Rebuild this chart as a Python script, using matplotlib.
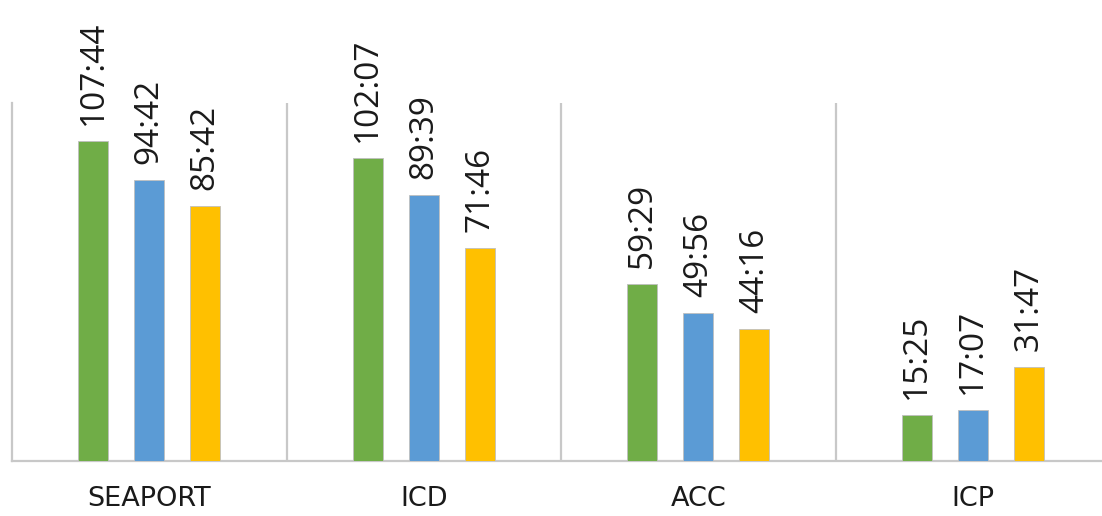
import matplotlib
matplotlib.use("Agg")
import matplotlib.pyplot as plt
import numpy as np

categories = ["SEAPORT", "ICD", "ACC", "ICP"]
series_a = ["107:44", "102:07", "59:29", "15:25"]
series_b = ["94:42", "89:39", "49:56", "17:07"]
series_c = ["85:42", "71:46", "44:16", "31:47"]
colors = ["#70AD47", "#5B9BD5", "#FFC000"]

def to_hours(s):
    h, m = s.split(":")
    return int(h) + int(m) / 60.0

W, H = 1102, 516
fig = plt.figure(figsize=(W / 100, H / 100), dpi=100)
ax = fig.add_axes([12 / W, (H - 461) / H, (1102 - 12) / W, (461 - 103) / H])
ax.set_xlim(-0.5, 3.5 - 8 / 274)
ax.set_ylim(0, 120.5)

x = np.arange(len(categories))
offsets = [-0.204, 0.0, 0.204]
width = 0.11
for series, off, col in zip([series_a, series_b, series_c], offsets, colors):
    vals = [to_hours(s) for s in series]
    bars = ax.bar(x + off, vals, width, color=col, edgecolor="#BFBFBF", linewidth=0.6, zorder=3)
    for b, lab in zip(bars, series):
        ax.annotate(lab, (b.get_x() + b.get_width() / 2, b.get_height()),
                    xytext=(0, 16), textcoords="offset pixels", rotation=90,
                    ha="center", va="bottom", fontsize=24, family="Open Sans",
                    color="#1A1A1A", annotation_clip=False, clip_on=False)

for sep in [0.5, 1.5, 2.5]:
    ax.axvline(sep, color="#C8C8C8", linewidth=1.6, zorder=1)

for s in ["top", "right"]:
    ax.spines[s].set_visible(False)
for s in ["left", "bottom"]:
    ax.spines[s].set_color("#C8C8C8")
    ax.spines[s].set_linewidth(1.6)

ax.set_yticks([])
ax.set_xticks(x)
ax.set_xticklabels(categories, fontsize=19.5, family="DejaVu Sans", color="#1A1A1A")
ax.tick_params(axis="x", length=0, pad=18)

fig.savefig("out.png", dpi=100)
